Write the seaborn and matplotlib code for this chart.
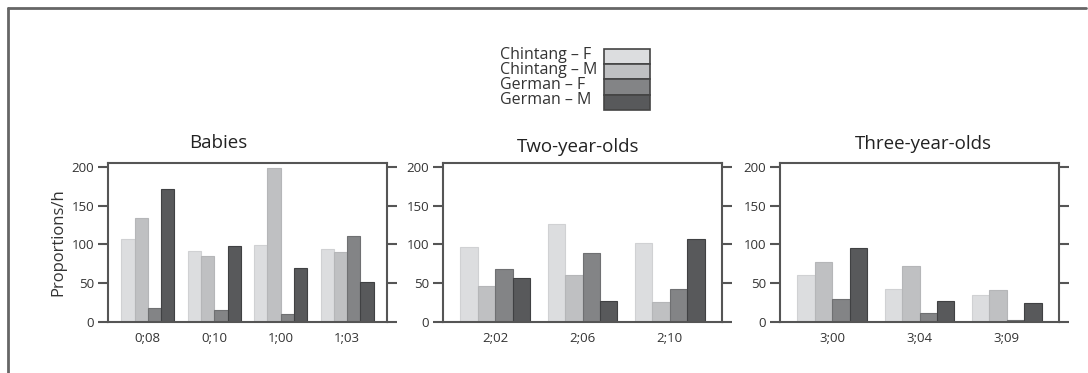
import pandas as pd
import seaborn as sns
import matplotlib.pyplot as plt
from matplotlib.patches import Patch
from matplotlib.lines import Line2D

# data (proportions per hour)
groups = ['Chintang – F', 'Chintang – M', 'German – F', 'German – M']
colors = ['#dcdddf', '#bfc0c2', '#838486', '#58595b']
edges = ['#d0d1d3', '#b5b6b8', '#6f7072', '#404143']

babies_ages = ['0;08', '0;10', '1;00', '1;03']
babies_cf = [107, 92, 99, 94]
babies_cm = [134, 85, 198, 90]
babies_gf = [18, 15, 10, 111]
babies_gm = [171, 98, 70, 51]

two_ages = ['2;02', '2;06', '2;10']
two_cf = [97, 126, 102]
two_cm = [47, 61, 26]
two_gf = [68, 89, 43]
two_gm = [57, 27, 107]

three_ages = ['3;00', '3;04', '3;09']
three_cf = [61, 43, 35]
three_cm = [77, 72, 41]
three_gf = [30, 11, 2]
three_gm = [96, 27, 25]

panels = [
    ('Babies', babies_ages, [babies_cf, babies_cm, babies_gf, babies_gm]),
    ('Two-year-olds', two_ages, [two_cf, two_cm, two_gf, two_gm]),
    ('Three-year-olds', three_ages, [three_cf, three_cm, three_gf, three_gm]),
]

sns.set_style('white')
plt.rcParams['font.family'] = ['Open Sans', 'DejaVu Sans']
plt.rcParams['text.color'] = '#333333'

fig = plt.figure(figsize=(10.88, 3.73), dpi=100)
W, H = 1088, 373

ax_lefts = [108, 443, 780]
title_x = [218, 578, 923]
title_y = [143, 147, 144]
spine_c = '#555555'

for i, (title, ages, vals) in enumerate(panels):
    ax = fig.add_axes([ax_lefts[i] / W, (H - 322) / H, 279 / W, 159 / H])
    rows = []
    for g, v in zip(groups, vals):
        for a, y in zip(ages, v):
            rows.append({'age': a, 'group': g, 'value': y})
    df = pd.DataFrame(rows)
    sns.barplot(data=df, x='age', y='value', hue='group', hue_order=groups,
                palette=colors, width=0.8, legend=False, ax=ax, saturation=1)
    for j, cont in enumerate(ax.containers):
        for p in cont:
            p.set_edgecolor(edges[j])
            p.set_linewidth(0.8)
    ax.set_xlim(-0.6, len(ages) - 0.4)
    ax.set_ylim(0, 205)
    ax.set_yticks([0, 50, 100, 150, 200])
    ax.set_xlabel('')
    ax.set_ylabel('')
    for s in ax.spines.values():
        s.set_color(spine_c)
        s.set_linewidth(1.5)
        s.set_visible(True)
    ax.tick_params(axis='y', which='both', left=True, right=True, direction='out',
                   length=7, width=1.5, color=spine_c, labelsize=9.5,
                   labelcolor='#333333', pad=3)
    ax.tick_params(axis='x', bottom=False, labelsize=9.5, labelcolor='#333333', pad=4)
    fig.text(title_x[i] / W, 1 - title_y[i] / H, title, ha='center', va='center',
             fontsize=13.5, color='#222222')
    if i == 0:
        ax.set_ylabel('Proportions/h', fontsize=12, color='#333333', labelpad=4)

# legend: stacked swatches, labels drawn left-aligned beside them
fs = 5  # small legend font so the swatches touch
row_pt = 15.2 * 72 / 100  # swatch height in points
hh = (row_pt / fs - 0.245) / 0.65
handles = [Patch(facecolor=c, edgecolor='#444444', linewidth=1.2) for c in colors]
fig.legend(handles, [''] * len(groups), loc='upper left',
           bbox_to_anchor=(604 / W, 1 - 49 / H), frameon=False, fontsize=fs,
           labelspacing=0, handleheight=hh, handlelength=46 * 0.72 / fs,
           handletextpad=0, borderaxespad=0, borderpad=0)
for k, g in enumerate(groups):
    fig.text(500 / W, 1 - (55 + 15 * k) / H, g, ha='left', va='center',
             fontsize=11.5, color='#333333')

# outer frame (top and left edges)
fig.add_artist(Line2D([8 / W, 1086 / W], [1 - 8 / H, 1 - 8 / H], color='#666666', lw=2))
fig.add_artist(Line2D([8 / W, 8 / W], [1 - 8 / H, 0], color='#666666', lw=2))

fig.savefig('out.png', dpi=100)
